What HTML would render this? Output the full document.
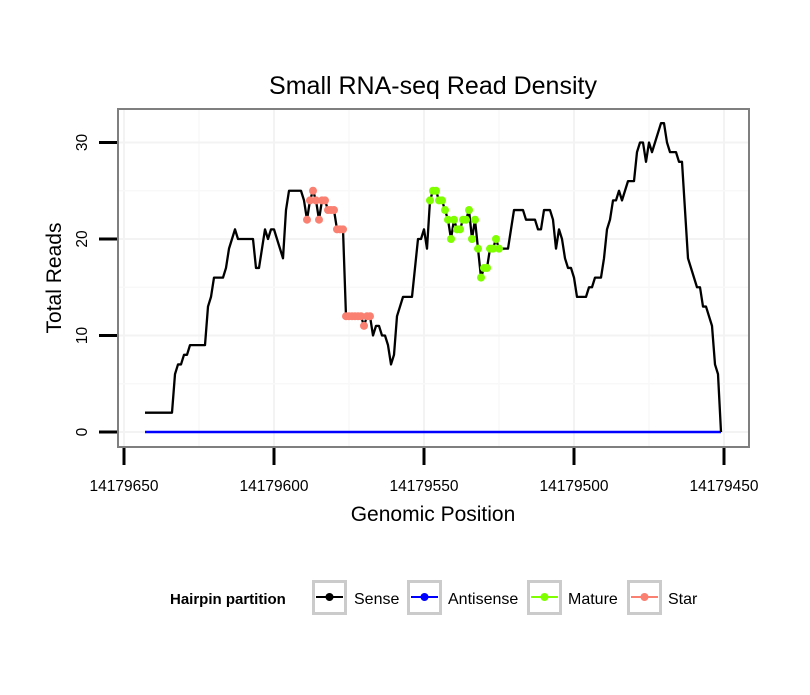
<!DOCTYPE html>
<html><head><meta charset="utf-8"><style>
body{margin:0;background:#fff;}
svg text{font-family:"Liberation Sans",sans-serif;}
</style></head><body>
<svg id="chart" width="810" height="690" xmlns="http://www.w3.org/2000/svg">
<rect width="810" height="690" fill="#fff"/>
<text x="433" y="94" font-size="25" text-anchor="middle">Small RNA-seq Read Density</text>
<g id="grid"></g>
<g id="marks"></g>
<rect x="118" y="109" width="631" height="338" fill="none" stroke="#7f7f7f" stroke-width="2"/>
<g id="axes"></g>
<text x="433" y="521" font-size="21" text-anchor="middle">Genomic Position</text>
<text transform="translate(61,278) rotate(-90)" font-size="21" text-anchor="middle">Total Reads</text>
<g>
<text x="170" y="604" font-size="15" font-weight="bold">Hairpin partition</text>
<g><rect x="313.5" y="581.5" width="32" height="32" fill="#fff" stroke="#cbcbcb" stroke-width="3"/><line x1="316" y1="597" x2="343" y2="597" stroke="#000" stroke-width="2"/><circle cx="329.5" cy="597" r="4" fill="#000"/><text x="354" y="604" font-size="16">Sense</text></g>
<g><rect x="408.5" y="581.5" width="32" height="32" fill="#fff" stroke="#cbcbcb" stroke-width="3"/><line x1="411" y1="597" x2="438" y2="597" stroke="#0000ff" stroke-width="2"/><circle cx="424.5" cy="597" r="4" fill="#0000ff"/><text x="448" y="604" font-size="16">Antisense</text></g>
<g><rect x="528.5" y="581.5" width="32" height="32" fill="#fff" stroke="#cbcbcb" stroke-width="3"/><line x1="531" y1="597" x2="558" y2="597" stroke="#7fff00" stroke-width="2"/><circle cx="544.5" cy="597" r="4" fill="#7fff00"/><text x="568" y="604" font-size="16">Mature</text></g>
<g><rect x="628.5" y="581.5" width="32" height="32" fill="#fff" stroke="#cbcbcb" stroke-width="3"/><line x1="631" y1="597" x2="658" y2="597" stroke="#fa8072" stroke-width="2"/><circle cx="644.5" cy="597" r="4" fill="#fa8072"/><text x="668" y="604" font-size="16">Star</text></g>
</g>
</svg>
<script>
const sensePos = [643,634,633,632,631,630,629,628,623,622,621,620,617,616,615,613,612,607,606,605,603,602,601,600,597,596,595,591,590,589,588,587,586,585,584,583,582,581,580,579,578,577,576,575,574,573,572,571,570,569,568,567,566,565,564,563,562,561,560,559,558,557,554,552,551,550,549,548,547,546,545,544,543,542,541,540,539,538,537,536,535,534,533,532,531,530,529,528,527,526,525,522,520,517,516,513,512,511,510,508,507,506,505,504,503,502,501,500,499,496,495,494,493,491,490,489,488,487,486,485,484,482,480,479,478,477,476,475,474,473,471,470,469,468,466,465,464,462,460,459,458,457,456,454,453,452,451];
const senseVal = [2,2,6,7,7,8,8,9,9,13,14,16,16,17,19,21,20,20,17,17,21,20,21,21,18,23,25,25,24,22,24,25,24,22,24,24,23,23,23,21,21,21,12,12,12,12,12,12,11,12,12,10,11,11,10,10,9,7,8,12,13,14,14,20,20,21,19,24,25,25,24,24,23,22,20,22,21,21,22,22,23,20,22,19,16,17,17,19,19,20,19,19,23,23,22,22,21,21,23,23,22,19,21,20,18,17,17,16,14,14,15,15,16,16,18,21,22,24,24,25,24,26,26,29,30,30,28,30,29,30,32,32,30,29,29,28,28,18,16,15,15,13,13,11,7,6,0];
const antisenseStart = 643, antisenseEnd = 451, antisenseVal = 0;
const starRange = [589,568];
const matureRange = [548,525];
const xTicks = [650,600,550,500,450];
const xTickLabels = ["14179650","14179600","14179550","14179500","14179450"];
const yTicks = [0,10,20,30];
const yTickLabels = ["0","10","20","30"];

const X0=124, XS=3, Y0=432, YS=9.65;
const xs = p => X0 + (650 - p) * XS;
const ys = v => Y0 - v * YS;
const NS="http://www.w3.org/2000/svg";
function mk(tag, attrs, parent){const e=document.createElementNS(NS,tag);for(const k in attrs)e.setAttribute(k,attrs[k]);parent.appendChild(e);return e;}
const grid=document.getElementById('grid'), marks=document.getElementById('marks'), axes=document.getElementById('axes');

for(let i=0;i<xTicks.length;i++){
  const x=xs(xTicks[i]);
  const g=mk('line',{x1:x,y1:110,x2:x,y2:446,stroke:'#f3f3f3','stroke-width':2},grid);
  
  
  if(i<xTicks.length-1){const xm=xs((xTicks[i]+xTicks[i+1])/2);
    const m=mk('line',{x1:xm,y1:110,x2:xm,y2:446,stroke:'#f8f8f8','stroke-width':1.5},grid);
    
    }
  const t=mk('line',{x1:x,y1:448,x2:x,y2:465,stroke:'#000','stroke-width':3},axes);
  
  
  const l=mk('text',{x:x,y:491,'font-size':15.5,'text-anchor':'middle'},axes);
  l.textContent=xTickLabels[i];
  
  
}
for(let i=0;i<yTicks.length;i++){
  const y=ys(yTicks[i]);
  const g=mk('line',{x1:119,y1:y,x2:748,y2:y,stroke:'#f3f3f3','stroke-width':2},grid);
  
  
  const ym=ys(yTicks[i]+5);
  if(ym>110){const m=mk('line',{x1:119,y1:ym,x2:748,y2:ym,stroke:'#f8f8f8','stroke-width':1.5},grid);
    
    }
  const t=mk('line',{x1:99,y1:y,x2:117,y2:y,stroke:'#000','stroke-width':3},axes);
  
  
  const l=mk('text',{transform:`translate(87,${y}) rotate(-90)`,'font-size':15.5,'text-anchor':'middle'},axes);
  l.textContent=yTickLabels[i];
  
  
}
const a=mk('line',{x1:xs(antisenseStart),y1:ys(antisenseVal),x2:xs(antisenseEnd),y2:ys(antisenseVal),stroke:'#0000ff','stroke-width':2.5},marks);


const pts=sensePos.map((p,i)=>xs(p)+','+ys(senseVal[i])).join(' ');
const s=mk('polyline',{points:pts,fill:'none',stroke:'#000','stroke-width':2.3,'stroke-linejoin':'round'},marks);


function dots(range,color,name){
  sensePos.forEach((p,i)=>{ if(p<=range[0]&&p>=range[1]){
    const c=mk('circle',{cx:xs(p),cy:ys(senseVal[i]),r:4,fill:color},marks);
    
    
  }});
}
dots(starRange,'#fa8072','star-point');
dots(matureRange,'#7fff00','mature-point');
</script>
</body></html>
